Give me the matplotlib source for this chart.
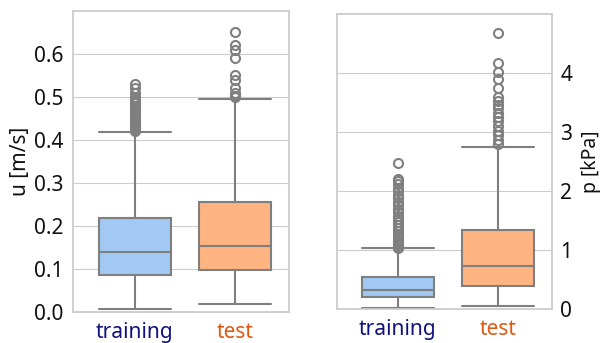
import numpy as np
import matplotlib
matplotlib.use('Agg')
import matplotlib.pyplot as plt
import seaborn as sns

sns.set_style('whitegrid')
plt.rcParams['font.family'] = ['Noto Sans', 'DejaVu Sans']
plt.rcParams['font.size'] = 15

groups = ['training', 'test']
group_colors = ['#a1c9f4', '#ffb482']
label_colors = ['#12127f', '#dc5a14']

# velocity summary: whislo, q1, median, q3, whishi
u_stats = [
    [0.007, 0.087, 0.139, 0.219, 0.419],
    [0.019, 0.097, 0.153, 0.257, 0.496],
]
u_fliers = [
    [0.421, 0.424, 0.427, 0.43, 0.433, 0.436, 0.44, 0.443, 0.447, 0.45, 0.455,
     0.46, 0.465, 0.47, 0.475, 0.48, 0.485, 0.49, 0.495, 0.5, 0.51, 0.52, 0.53],
    [0.5, 0.503, 0.51, 0.52, 0.54, 0.552, 0.59, 0.61, 0.62, 0.65],
]

# pressure summary
p_stats = [
    [0.02, 0.20, 0.32, 0.54, 1.03],
    [0.05, 0.39, 0.73, 1.34, 2.74],
]
p_fliers = [
    [1.04, 1.06, 1.08, 1.1, 1.13, 1.16, 1.2, 1.24, 1.28, 1.32, 1.37, 1.42,
     1.47, 1.52, 1.58, 1.64, 1.7, 1.76, 1.82, 1.88, 1.94, 2.0, 2.06, 2.12,
     2.17, 2.2, 2.47],
    [2.8, 2.86, 2.95, 3.02, 3.1, 3.18, 3.25, 3.32, 3.4, 3.46, 3.52, 3.6,
     3.75, 3.9, 4.02, 4.17, 4.68],
]


def draw_box(ax, stats, fliers):
    bxp_stats = []
    for s, f, name in zip(stats, fliers, groups):
        bxp_stats.append(dict(whislo=s[0], q1=s[1], med=s[2], q3=s[3],
                              whishi=s[4], fliers=f, label=name))
    gray = '#7f7f7f'
    art = ax.bxp(bxp_stats, positions=[0, 1], widths=0.72, capwidths=0.72,
                 patch_artist=True,
                 boxprops=dict(edgecolor=gray, linewidth=1.5),
                 whiskerprops=dict(color=gray, linewidth=1.5),
                 capprops=dict(color=gray, linewidth=1.5),
                 medianprops=dict(color=gray, linewidth=1.5),
                 flierprops=dict(marker='o', markerfacecolor='none',
                                 markeredgecolor=gray, markersize=6.5,
                                 markeredgewidth=1.5))
    for patch, c in zip(art['boxes'], group_colors):
        patch.set_facecolor(c)
    ax.set_xlim(-0.61, 1.54)
    ax.grid(False, axis='x')
    ax.tick_params(axis='both', length=0, labelsize=15, labelcolor='#111111')
    ax.tick_params(axis='x', pad=7)
    for lbl, c in zip(ax.get_xticklabels(), label_colors):
        lbl.set_color(c)
    for sp in ax.spines.values():
        sp.set_color('#cccccc')
        sp.set_linewidth(1.3)


fig = plt.figure(figsize=(6.02, 3.43), dpi=100)
ax1 = fig.add_axes([0.122, 0.090, 0.358, 0.878])
ax2 = fig.add_axes([0.559, 0.099, 0.358, 0.860])

draw_box(ax1, u_stats, u_fliers)
ax1.set_ylim(0, 0.7)
ax1.set_yticks(np.arange(0, 0.61, 0.1))
ax1.set_yticklabels([f'{v:.1f}' for v in np.arange(0, 0.61, 0.1)])
ax1.tick_params(axis='y', pad=7)
ax1.set_ylabel('u [m/s]', fontsize=15, labelpad=2, color='#111111')

draw_box(ax2, p_stats, p_fliers)
ax2.set_ylim(0, 5)
ax2.set_yticks([0, 1, 2, 3, 4])
ax2.yaxis.tick_right()
ax2.tick_params(axis='y', pad=6)
ax2.yaxis.set_label_position('right')
ax2.set_ylabel('p [kPa]', fontsize=14, labelpad=6, color='#111111')

fig.savefig('out.png', dpi=100)
